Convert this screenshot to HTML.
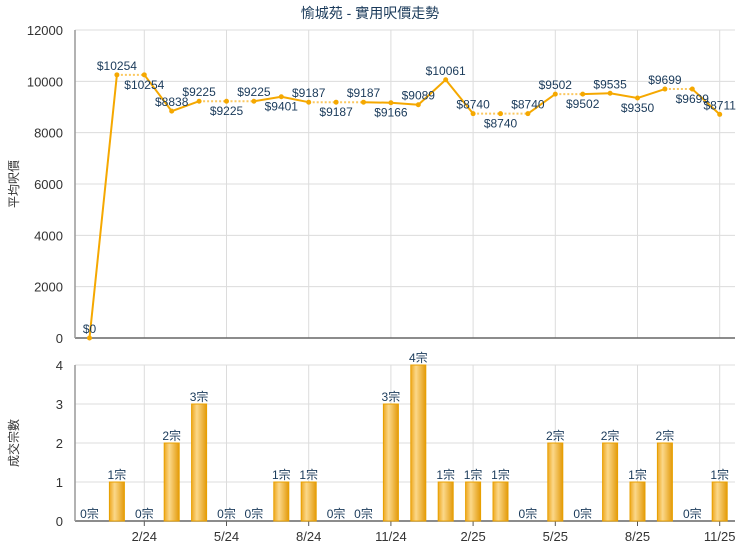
<!DOCTYPE html>
<html><head><meta charset="utf-8"><style>
body{margin:0;background:#fff;}
text{font-family:"Liberation Sans","Noto Sans CJK TC",sans-serif;}
</style></head><body>
<svg width="740" height="550" xmlns="http://www.w3.org/2000/svg">
<defs>
<linearGradient id="bg" x1="0" x2="1" y1="0" y2="0">
<stop offset="0" stop-color="#eea820"/><stop offset="0.35" stop-color="#fbd88a"/><stop offset="1" stop-color="#e39a0a"/>
</linearGradient>
</defs>
<text x="370" y="18" text-anchor="middle" font-size="14" fill="#1a3a5a">愉城苑 - 實用呎價走勢</text>
</svg>
<script>
const NS="http://www.w3.org/2000/svg";
const svg=document.querySelector('svg');
function el(t,a,txt){const e=document.createElementNS(NS,t);for(const k in a)e.setAttribute(k,a[k]);if(txt!=null)e.textContent=txt;svg.appendChild(e);return e;}
const L=75,R=735,T1=30,B1=338,T2=365,B2=521;
const X=i=>89.5+27.4*i;
for(let v=0;v<=12000;v+=2000){const y=B1-v*(B1-T1)/12000;el('line',{x1:L,x2:R,y1:y,y2:y,stroke:'#dcdcdc'});el('text',{x:L-12,y:y+5,'text-anchor':'end','font-size':13,fill:'#333'},v);}
for(let v=0;v<=4;v++){const y=B2-v*(B2-T2)/4;el('line',{x1:L,x2:R,y1:y,y2:y,stroke:'#dcdcdc'});el('text',{x:L-12,y:y+5,'text-anchor':'end','font-size':13,fill:'#333'},v);}
const ticks=['2/24','5/24','8/24','11/24','2/25','5/25','8/25','11/25'];
ticks.forEach((t,k)=>{const x=X(2+3*k);el('line',{x1:x,x2:x,y1:T1,y2:B1,stroke:'#dcdcdc'});el('line',{x1:x,x2:x,y1:T2,y2:B2,stroke:'#dcdcdc'});el('line',{x1:x,x2:x,y1:B2,y2:B2+5,stroke:'#555'});el('text',{x:x,y:B2+20,'text-anchor':'middle','font-size':13,fill:'#333'},t);});
el('line',{x1:L,x2:R,y1:B1,y2:B1,stroke:'#666','stroke-width':1.5});
el('line',{x1:L,x2:L,y1:T1,y2:B1,stroke:'#999','stroke-width':1.5});
el('line',{x1:L,x2:R,y1:B2,y2:B2,stroke:'#666','stroke-width':1.5});
el('line',{x1:L,x2:L,y1:T2,y2:B2,stroke:'#999','stroke-width':1.5});
el('text',{x:18,y:184,'text-anchor':'middle','font-size':12,fill:'#333',transform:'rotate(-90 18 184)'},'平均呎價');
el('text',{x:18,y:443,'text-anchor':'middle','font-size':12,fill:'#333',transform:'rotate(-90 18 443)'},'成交宗數');
const v=[0,10254,10254,8838,9225,9225,9225,9401,9187,9187,9187,9166,9089,10061,8740,8740,8740,9502,9502,9535,9350,9699,9699,8711];
const up=[1,1,0,1,1,0,1,0,1,0,1,0,1,1,1,0,1,1,0,1,0,1,0,1];
const c=[0,1,0,2,3,0,0,1,1,0,0,3,4,1,1,1,0,2,0,2,1,2,0,1];
const Y=x=>B1-x*(B1-T1)/12000;
for(let i=0;i<23;i++){const eq=v[i]==v[i+1];el('line',{x1:X(i),y1:Y(v[i]),x2:X(i+1),y2:Y(v[i+1]),stroke:eq?'#fbc860':'#f5a800','stroke-width':2,'stroke-dasharray':eq?'2,2':'none'});}
v.forEach((d,i)=>{el('circle',{cx:X(i),cy:Y(d),r:2.5,fill:'#f5a800'});el('text',{x:X(i),y:up[i]?Y(d)-5:Y(d)+14,'text-anchor':'middle','font-size':12,fill:'#1a3a5a'},'$'+d);});
c.forEach((n,i)=>{const x=X(i),h=n*(B2-T2)/4;if(n)el('rect',{x:x-7.5,y:B2-h,width:15,height:h,fill:'url(#bg)',stroke:'#e8a000','stroke-width':1});el('text',{x:x,y:B2-h-3,'text-anchor':'middle','font-size':12,fill:'#1a3a5a'},n+'宗');});
</script>
</body></html>
